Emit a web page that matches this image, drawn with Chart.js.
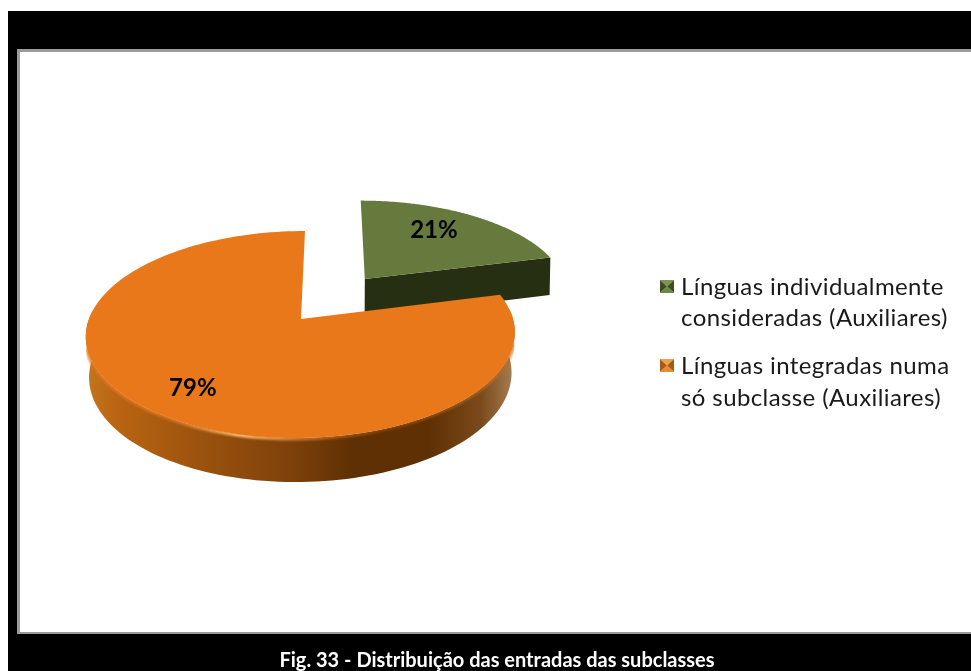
<!DOCTYPE html>
<html><head><meta charset="utf-8">
<style>html,body{margin:0;padding:0;background:#fff}canvas{display:block;filter:blur(0.4px)}</style>
<script src="https://cdn.jsdelivr.net/npm/chart.js@4"></script></head>
<body><canvas id="c" width="971" height="671"></canvas>
<script>
const categories = ['Línguas individualmente consideradas (Auxiliares)', 'Línguas integradas numa só subclasse (Auxiliares)'];
const legendLines = [['Línguas individualmente', 'consideradas (Auxiliares)'], ['Línguas integradas numa', 'só subclasse (Auxiliares)']];
const values = [21, 79];
const caption = 'Fig. 33 - Distribuição das entradas das subclasses';

const k = 0.15, A = 212, B = 101.2, SH = -4.6, CX = 301, CY = 319;
function project(u, v, xs, drop) {
  const w = 1 - k * v;
  let x = (A * u + SH * v) / w, y = B * v / w;
  if (xs) { x *= xs; y += (40 + 4 * v) * drop; }
  return [CX + x, CY + y];
}
function arcPts(el, xs, drop) {
  const d = el.options.offset / el.outerRadius, mid = (el.startAngle + el.endAngle) / 2;
  const ox = Math.cos(mid) * d * 0.957, oy = Math.sin(mid) * d, pts = [];
  for (let i = 0; i <= 160; i++) {
    const a = el.startAngle + (el.endAngle - el.startAngle) * i / 160;
    const p = project(ox + Math.cos(a), oy + Math.sin(a), xs, drop);
    p.front = Math.sin(a) > -0.1;
    pts.push(p);
  }
  return { pts, apex: project(ox, oy, xs, drop), ox, oy, mid };
}
function trace(ctx, pts) { pts.forEach((p, i) => i ? ctx.lineTo(p[0], p[1]) : ctx.moveTo(p[0], p[1])); ctx.closePath(); }
function poly(ctx, pts) { ctx.beginPath(); trace(ctx, pts); }
function hgrad(ctx, x0, x1, stops) {
  const g = ctx.createLinearGradient(x0, 0, x1, 0);
  stops.forEach(s => g.addColorStop(s[0], s[1]));
  return g;
}

const pie3d = {
  id: 'pie3d',
  beforeDraw(chart) {
    const c = chart.ctx;
    c.save();
    c.fillStyle = '#fff'; c.fillRect(0, 0, 971, 671);
    c.fillStyle = '#000'; c.fillRect(8, 11, 963, 660);
    c.fillStyle = '#9a9a9a'; c.fillRect(17, 49, 954, 585);
    c.fillStyle = '#fff'; c.fillRect(20, 52, 951, 580);
    c.restore();
  },
  beforeDatasetDraw(chart) {
    const c = chart.ctx, arcs = chart.getDatasetMeta(0).data;
    const green = arcs[0], orange = arcs[1];
    c.save();
    // green slice
    const gT = arcPts(green), gB = arcPts(green, 0.997, 1);
    const gEnd = gT.pts[gT.pts.length - 1], gEndB = gB.pts[gB.pts.length - 1];
    c.fillStyle = '#262f12';
    poly(c, [gT.apex, gEnd, gEndB, gB.apex]); c.fill();
    poly(c, [gT.apex, ...gT.pts]); c.fillStyle = '#667a3d'; c.fill();
    // orange wall: front of the rim, with a rounded shoulder, filled as one path
    const oT = arcPts(orange), oM = arcPts(orange, 0.998, 0.35), oN = arcPts(orange, 0.992, 0.7), oB = arcPts(orange, 0.985, 1);
    const front = t => t.pts.filter(p => p.front);
    c.fillStyle = hgrad(c, 87, 515, [[0, '#c4761f'], [0.06, '#bb6612'], [0.27, '#9a520e'], [0.47, '#7f420b'], [0.62, '#5f3003'], [0.8, '#5f3003'], [0.92, '#7a4a1c'], [1, '#a88055']]);
    c.beginPath();
    [[oT, oM], [oM, oN], [oN, oB]].forEach(([a, b]) => trace(c, [...front(a), ...front(b).reverse()]));
    c.fill();
    // soft rim highlight, kept on the wall
    const rim = hgrad(c, 87, 515, [[0, 'rgba(225,120,30,0.8)'], [0.2, 'rgba(235,130,40,0.6)'], [0.36, 'rgba(255,190,110,1)'], [0.5, 'rgba(250,150,60,0.6)'], [0.7, 'rgba(200,100,20,0.3)'], [1, 'rgba(205,110,30,0.7)']]);
    c.save();
    poly(c, [...front(oT), ...front(oM).reverse()]); c.clip();
    c.filter = 'blur(1px)';
    c.beginPath(); front(oT).forEach((p, i) => i ? c.lineTo(p[0], p[1]) : c.moveTo(p[0], p[1]));
    c.lineWidth = 5; c.strokeStyle = rim; c.stroke();
    c.restore();
    // orange top
    poly(c, [oT.apex, ...oT.pts]); c.fillStyle = '#e8781a'; c.fill();
    // percent labels
    c.fillStyle = '#000'; c.font = 'bold 24px Lato'; c.textAlign = 'center'; c.textBaseline = 'middle';
    [green, orange].forEach((el, i) => {
      const t = i ? oT : gT;
      const p = project(t.ox + Math.cos(t.mid) * 0.77, t.oy + Math.sin(t.mid) * 0.77);
      c.fillText(values[i] + '%', p[0] + (i ? 5 : -15), p[1] + (i ? 2 : 1));
    });
    c.restore();
    return false;
  },
  afterDraw(chart) {
    const c = chart.ctx;
    c.save();
    const mk = [[['#7d9455', '#3c4e20', '#3c4e20', '#6f8648'], 280], [['#f0a050', '#a85a12', '#a85a12', '#e88a30'], 359]];
    mk.forEach(([col, y]) => {
      const x = 660, s = 14, h = 13, mx = x + s / 2, my = y + h / 2;
      [[[x, y], [x + s, y]], [[x, y], [x, y + h]], [[x + s, y], [x + s, y + h]], [[x, y + h], [x + s, y + h]]].forEach((e, i) => {
        poly(c, [e[0], e[1], [mx, my]]); c.fillStyle = col[i]; c.fill();
      });
    });
    c.fillStyle = '#1a1a1a'; c.font = '24px Lato'; c.textAlign = 'left'; c.textBaseline = 'middle';
    c.letterSpacing = '0.4px';
    const ys = [[287, 318], [366, 398]];
    legendLines.forEach((ls, i) => ls.forEach((t, j) => c.fillText(t, 681, ys[i][j])));
    c.letterSpacing = '0px';
    c.fillStyle = '#fff'; c.font = 'bold 20px Lato'; c.textAlign = 'center';
    c.fillText(caption, 497, 661);
    c.restore();
  }
};
new Chart(document.getElementById('c'), {
  type: 'pie',
  data: { labels: categories, datasets: [{ data: values, radius: 100, offset: [53, 0], backgroundColor: ['#667a3d', '#e8781a'], borderWidth: 0 }] },
  options: { responsive: false, animation: false, plugins: { legend: { display: false }, tooltip: { enabled: false } } },
  plugins: [pie3d]
});
</script></body></html>
